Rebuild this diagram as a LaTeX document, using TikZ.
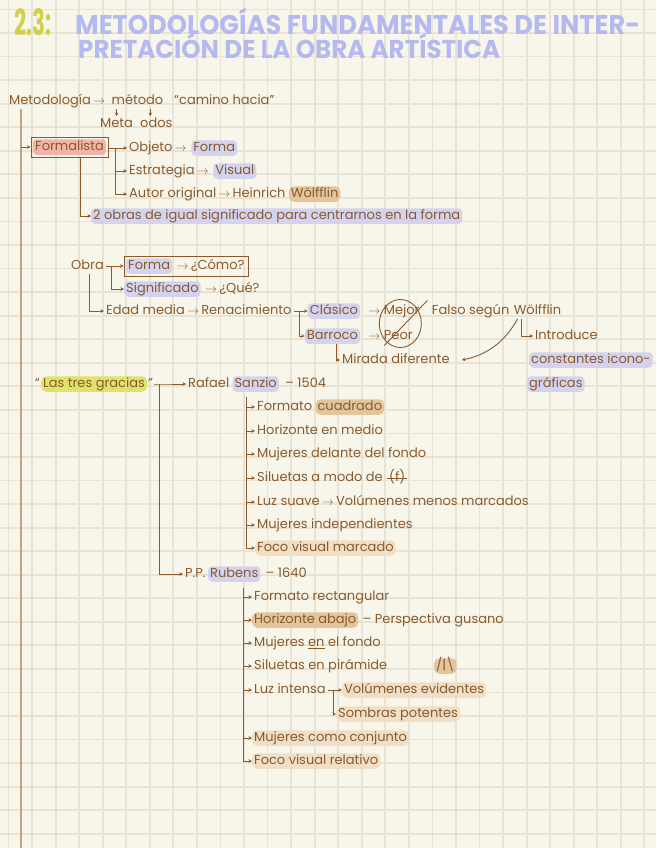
\documentclass[tikz,border=0pt]{standalone}
\usepackage{graphicx}
\usepackage{fontspec}
\setmainfont{Poppins}
\usetikzlibrary{arrows.meta,calc,positioning,fit}

\definecolor{paper}{HTML}{F8F6EA}
\definecolor{gridc}{HTML}{E8E4D5}
\definecolor{ink}{HTML}{8A5A2C}
\definecolor{spinec}{HTML}{C4A27E}
\definecolor{lav}{HTML}{D3D3F0}
\definecolor{pinkhl}{HTML}{F2B3A9}
\definecolor{tanhl}{HTML}{E2C59C}
\definecolor{sandhl}{HTML}{EFDFC7}
\definecolor{yelhl}{HTML}{DDE36B}
\definecolor{titlec}{HTML}{B4B9F0}
\definecolor{numc}{HTML}{D0D04A}

\newcommand{\ar}{\,$\to$\,}

\begin{document}
\begin{tikzpicture}[x=1pt, y=-1pt, >=Stealth,
  txt/.style={anchor=west, inner xsep=2pt, inner ysep=1.5pt, text=ink,
    font=\fontsize{13}{15}\selectfont, text height=9.5pt, text depth=3pt},
  lavbox/.style={txt, fill=lav, rounded corners=4pt},
  pinkbox/.style={txt, fill=pinkhl, rounded corners=3pt},
  tanbox/.style={txt, fill=tanhl, rounded corners=5pt},
  sandbox/.style={txt, fill=sandhl, rounded corners=5pt},
  yelbox/.style={txt, fill=yelhl, rounded corners=5pt},
  boxframe/.style={draw=ink, line width=0.9pt, inner sep=2pt},
  conn/.style={draw=ink, line width=0.9pt, -{Stealth[length=3.5pt,width=3.5pt]}},
  inkline/.style={draw=ink, line width=0.9pt},
  spineline/.style={draw=spinec, line width=2.2pt},
  gridline/.style={draw=gridc, line width=1.8pt}]

% paper
\fill[paper] (0,0) rectangle (656,848);
\useasboundingbox (0,0) rectangle (656,848);
\foreach \i in {0,...,27} \draw[gridline] ({8.5+23.55*\i},0) -- ++(0,848);
\foreach \j in {0,...,35} \draw[gridline] (0,{9.5+23.55*\j}) -- ++(656,0);

% title
\node[anchor=west, inner sep=0pt, text=numc] (num) at (14,22)
  {\scalebox{1}[1.7]{\resizebox{37pt}{!}{\bfseries 2.3:}}};
\node[anchor=west, inner sep=0pt, text=titlec] (tit1) at (75,21)
  {\scalebox{1}[1.05]{\resizebox{565pt}{!}{\bfseries METODOLOGÍAS FUNDAMENTALES DE INTER-}}};
\node[anchor=west, inner sep=0pt, text=titlec] (tit2) at (78,46)
  {\scalebox{1}[1.05]{\resizebox{422pt}{!}{\bfseries PRETACIÓN DE LA OBRA ARTÍSTICA}}};

% metodologia
\node[txt] (metl) at (7,101) {Metodología\ar};
\node[txt, right=0pt of metl] (metodo) {método};
\node[txt] (camino) at (172,101) {“camino hacia”};
\node[txt] (meta) at (98,124) {Meta};
\node[txt] (odos) at (138,124) {odos};
\draw[conn] (meta.north |- metodo.south) -- (meta.north);
\draw[conn] ([xshift=-6pt]odos.north |- metodo.south) -- ([xshift=-6pt]odos.north);
\coordinate (spine) at ([xshift=14pt]metl.south west);
\draw[spineline] (spine) -- (spine |- 0,848);

% formalista
\node[pinkbox] (formalista) at (33,147) {Formalista};
\node[boxframe, fit=(formalista)] (fbox) {};
\draw[conn] (spine |- fbox.west) -- (fbox.west);
\node[txt] (objeto) at (127,148) {Objeto\ar};
\node[lavbox, right=0pt of objeto] (forma) {Forma};
\node[txt] (estrategia) at (127,171) {Estrategia\ar};
\node[lavbox, right=0pt of estrategia] (visual) {Visual};
\node[txt] (autor) at (127,194) {Autor original\ar Heinrich};
\node[tanbox, right=1pt of autor] (wolfflin) {Wölfflin};
\coordinate (fb) at ([xshift=7pt]fbox.east |- objeto.west);
\draw[conn] (fbox.east |- objeto.west) -- (objeto.west);
\draw[conn] (fb) |- (estrategia.west);
\draw[conn] (fb) |- (autor.west);
\node[lavbox] (dosobras) at (91,216) {2 obras de igual significado para centrarnos en la forma};
\draw[conn] ([xshift=11pt]fbox.south) |- (dosobras.west);

% obra
\node[txt] (obra) at (69,266) {Obra};
\node[lavbox] (formab) at (126,266) {Forma};
\node[txt, right=0pt of formab] (como) {\ar¿Cómo?};
\node[boxframe, fit=(formab)(como)] (obox) {};
\node[lavbox] (signif) at (124,289) {Significado};
\node[txt, right=0pt of signif] (que) {\ar¿Qué?};
\draw[conn] (obra.east) -- (obox.west |- obra.east);
\draw[conn] ([xshift=5pt]obra.east) |- (signif.west);
\node[txt] (edad) at (104,311) {Edad media\ar Renacimiento};
\draw[conn] ([xshift=2pt]obra.south) |- (edad.west);
\node[lavbox, right=14pt of edad] (clasico) {Clásico};
\node[lavbox, anchor=west] (barroco) at ([xshift=-3pt]clasico.west |- 0,336) {Barroco};
\coordinate (eb) at ([xshift=6pt]edad.east);
\draw[conn] (edad.east) -- (clasico.west);
\draw[conn] (eb) |- (barroco.west);
\node[txt, right=6pt of clasico] (mejor) {$\to$ Mejor};
\node[txt, anchor=west] (peor) at (mejor.west |- barroco.west) {$\to$ Peor};
\draw[inkline] ($(mejor.east)!0.5!(peor.east)+(-18pt,0)$) ellipse [x radius=21pt, y radius=24pt];
\draw[inkline] ($(mejor.east)!0.5!(peor.east)+(-34pt,-22pt)$) -- ++(43,-45);
\node[txt, right=8pt of mejor] (falso) {Falso según};
\node[txt, right=0pt of falso] (wolf) {Wölfflin};
\node[txt] (mirada) at (340,360) {Mirada diferente};
\draw[conn] ([xshift=4pt]barroco.south) |- (mirada.west);
\draw[conn] ([xshift=6pt]wolf.south west) .. controls +(-10,18) and +(30,-6) .. ([xshift=10pt]mirada.east);
\node[txt] (introduce) at (533,336) {Introduce};
\draw[conn] ([xshift=10pt]wolf.south west) |- (introduce.west);
\node[lavbox] (constantes) at (529,360) {constantes icono-};
\node[lavbox] (graficas) at (527,384) {gráficas};

% las tres gracias
\node[yelbox] (tres) at (41,384) {Las tres gracias};
\node[txt, left=0pt of tres, inner xsep=1pt] (q1) {“};
\node[txt, right=0pt of tres, inner xsep=1pt] (q2) {”};
\node[txt] (rafael) at (186,384) {Rafael};
\node[lavbox, right=1pt of rafael] (sanzio) {Sanzio};
\node[txt, right=4pt of sanzio] (f1504) {– 1504};
\coordinate (tb) at ([xshift=5pt]q2.east);
\draw[conn] (q2.east) -- (tb) |- (rafael.west);

% rafael
\node[txt] (r1) at (255,407) {Formato};
\node[tanbox, right=1pt of r1] (r1b) {cuadrado};
\node[txt] (r2) at (255,431) {Horizonte en medio};
\node[txt] (r3) at (255,454) {Mujeres delante del fondo};
\node[txt] (r4) at (255,478) {Siluetas a modo de};
\node[txt, right=2pt of r4] (r4b) {(f)};
\draw[inkline] (r4b.west) -- (r4b.east);
\node[txt] (r5) at (255,502) {Luz suave\ar Volúmenes menos marcados};
\node[txt] (r6) at (255,525) {Mujeres independientes};
\node[sandbox] (r7) at (255,548) {Foco visual marcado};
\coordinate (rb) at (246,397);
\foreach \i in {1,...,7} \draw[conn] (rb) |- (r\i.west);

% rubens
\node[txt] (pp) at (183,574) {P.P.};
\node[lavbox, right=0pt of pp] (rubens) {Rubens};
\node[txt, right=3pt of rubens] (f1640) {– 1640};
\draw[conn] (tb) |- (pp.west);
\node[txt] (p1) at (252,597) {Formato rectangular};
\node[tanbox] (p2) at (252,620) {Horizonte abajo};
\node[txt, right=2pt of p2] (p2b) {– Perspectiva gusano};
\node[txt] (p3) at (252,643) {Mujeres \underline{en} el fondo};
\node[txt] (p4) at (252,666) {Siluetas en pirámide};
\node[tanbox] (p4b) at (434,666) {/|\textbackslash};
\node[txt] (p5) at (252,690) {Luz intensa};
\node[sandbox, right=14pt of p5] (v1) {Volúmenes evidentes};
\node[sandbox, anchor=west] (v2) at ([xshift=-6pt]v1.west |- 0,714) {Sombras potentes};
\coordinate (lb) at ([xshift=6pt]p5.east);
\draw[conn] (p5.east) -- (v1.west);
\draw[conn] (lb) |- (v2.west);
\node[sandbox] (p6) at (252,738) {Mujeres como conjunto};
\node[sandbox] (p7) at (252,761) {Foco visual relativo};
\coordinate (pb) at (243,588);
\foreach \i in {1,...,7} \draw[conn] (pb) |- (p\i.west);
\end{tikzpicture}
\end{document}
